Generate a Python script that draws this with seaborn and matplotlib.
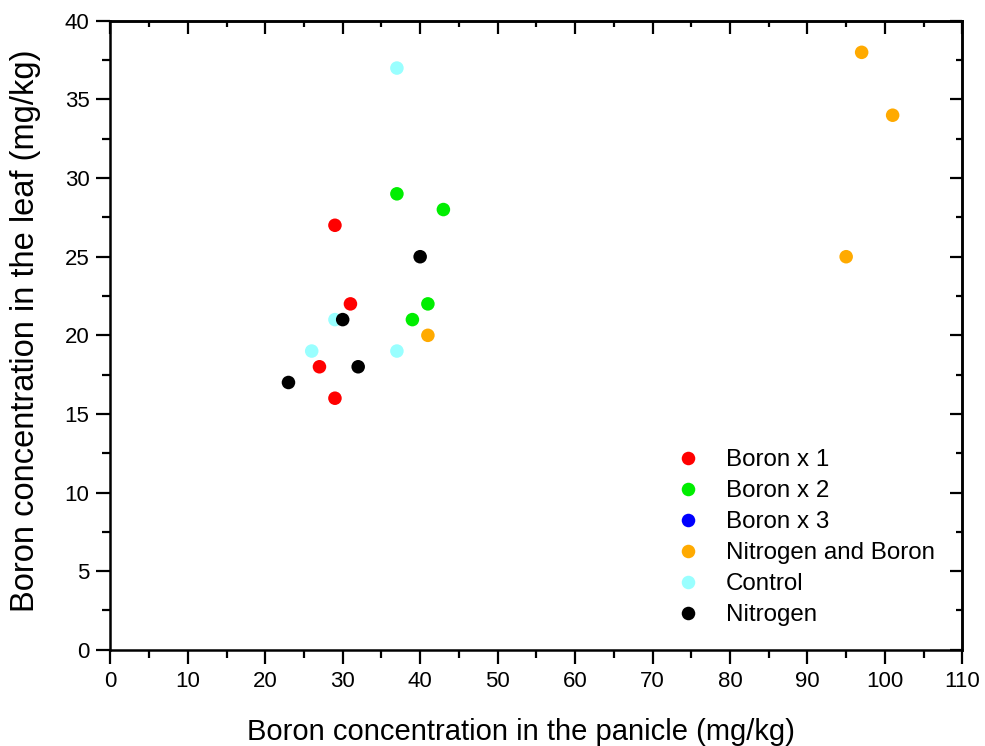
import pandas as pd
import matplotlib
matplotlib.use("Agg")
import matplotlib.pyplot as plt
import seaborn as sns
from matplotlib.ticker import MultipleLocator

# values
groups = ["Boron x 1", "Boron x 2", "Boron x 3", "Nitrogen and Boron", "Control", "Nitrogen"]
colors = ["#ff0000", "#00ee00", "#0000ff", "#ffaa00", "#99ffff", "#000000"]

boron1_panicle = [29, 31, 27, 29]
boron1_leaf = [27, 22, 18, 16]
boron2_panicle = [37, 43, 41, 39]
boron2_leaf = [29, 28, 22, 21]
nb_panicle = [97, 101, 95, 41]
nb_leaf = [38, 34, 25, 20]
control_panicle = [37, 29, 26, 37]
control_leaf = [37, 21, 19, 19]
nitrogen_panicle = [40, 30, 32, 23]
nitrogen_leaf = [25, 21, 18, 17]

rows = []
for g, xs, ys in [
    ("Boron x 1", boron1_panicle, boron1_leaf),
    ("Boron x 2", boron2_panicle, boron2_leaf),
    ("Nitrogen and Boron", nb_panicle, nb_leaf),
    ("Control", control_panicle, control_leaf),
    ("Nitrogen", nitrogen_panicle, nitrogen_leaf),
]:
    for x, y in zip(xs, ys):
        rows.append({"panicle": x, "leaf": y, "group": g})
df = pd.DataFrame(rows)

sns.set_style("ticks")
plt.rcParams["font.family"] = ["Liberation Sans", "DejaVu Sans"]
for k in ["text.color", "axes.labelcolor", "xtick.color", "ytick.color", "axes.edgecolor"]:
    plt.rcParams[k] = "black"

fig, ax = plt.subplots(figsize=(9.85, 7.46), dpi=100)
fig.subplots_adjust(left=0.112, right=0.977, top=0.972, bottom=0.129)

sns.scatterplot(data=df, x="panicle", y="leaf", hue="group", hue_order=groups,
                palette=dict(zip(groups, colors)), s=95, linewidth=0, ax=ax)

ax.set_xlim(0, 110)
ax.set_ylim(0, 40)
for axis, maj in [(ax.xaxis, 10), (ax.yaxis, 5)]:
    axis.set_major_locator(MultipleLocator(maj))
    axis.set_minor_locator(MultipleLocator(maj / 2))
ax.tick_params(which="major", direction="out", length=10, width=1.6, labelsize=16, pad=5)
ax.tick_params(which="minor", direction="out", length=5.5, width=1.6)
for sp in ax.spines.values():
    sp.set_linewidth(1.8)

# inward ticks on top and right
top = ax.secondary_xaxis("top")
top.xaxis.set_major_locator(MultipleLocator(10))
top.xaxis.set_minor_locator(MultipleLocator(5))
top.tick_params(which="major", direction="in", length=9, width=1.6, labeltop=False)
top.tick_params(which="minor", direction="in", length=4.5, width=1.6)
top.spines["top"].set_linewidth(1.8)
right = ax.secondary_yaxis("right")
right.yaxis.set_major_locator(MultipleLocator(5))
right.yaxis.set_minor_locator(MultipleLocator(2.5))
right.tick_params(which="major", direction="in", length=9, width=1.6, labelright=False)
right.tick_params(which="minor", direction="in", length=4.5, width=1.6)
right.spines["right"].set_linewidth(1.8)

ax.set_xlabel("Boron concentration in the panicle (mg/kg)", fontsize=21)
ax.set_ylabel("Boron concentration in the leaf (mg/kg)", fontsize=23.5)
ax.xaxis.set_label_coords(0.482, -0.108)
ax.yaxis.set_label_coords(-0.081, 0.507)

ax.legend(loc="lower right", bbox_to_anchor=(0.9955, 0.0), frameon=False, fontsize=17.4,
          handletextpad=0.55, labelspacing=0.37, borderaxespad=0.58)

fig.savefig("out.png", dpi=100)
